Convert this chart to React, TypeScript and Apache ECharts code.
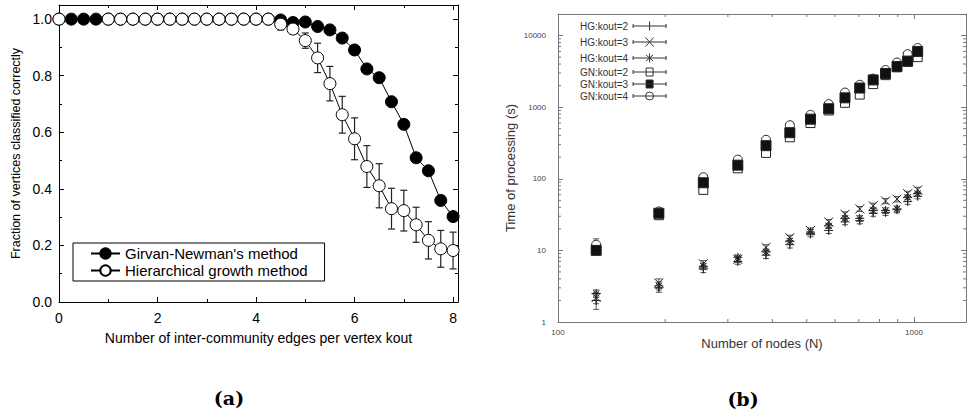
import React, { useEffect, useRef } from 'react';
import * as echarts from 'echarts';

// ---------- (a) data ----------
const kout = [0, 0.25, 0.5, 0.75, 1, 1.25, 1.5, 1.75, 2, 2.25, 2.5, 2.75, 3, 3.25, 3.5, 3.75, 4, 4.25,
  4.5, 4.75, 5, 5.25, 5.5, 5.75, 6, 6.25, 6.5, 6.75, 7, 7.25, 7.5, 7.75, 8];
const gnFrac = [1, 1, 1, 1, 1, 1, 1, 1, 1, 1, 1, 1, 1, 1, 1, 1, 1, 1,
  0.997, 0.988, 0.99, 0.974, 0.962, 0.933, 0.891, 0.824, 0.793, 0.708, 0.628, 0.51, 0.464, 0.359, 0.302];
const hgFrac = [1, null, null, null, 1, 1, 1, 1, 1, 1, 1, 1, 1, 1, 1, 1, 1, 1,
  0.982, 0.965, 0.924, 0.863, 0.772, 0.662, 0.577, 0.479, 0.411, 0.33, 0.323, 0.273, 0.218, 0.188, 0.182];
const hgErr = [0, 0, 0, 0, 0, 0, 0, 0, 0, 0, 0, 0, 0.012, 0.012, 0.012, 0.012, 0.012, 0.012,
  0.02, 0.016, 0.027, 0.052, 0.061, 0.065, 0.074, 0.074, 0.078, 0.072, 0.072, 0.062, 0.066, 0.065, 0.065];
const xTicksA = [0, 2, 4, 6, 8];

// ---------- (b) data ----------
const nodes = [128, 192, 256, 320, 384, 448, 512, 576, 640, 704, 768, 832, 896, 960, 1024];
const hg2 = [2.0, 3.0, 5.5, 7.0, 8.6, 12, 17, 19, 25, 26, 33, 34, 37, 48, 57];
const hg3 = [2.2, 3.5, 6.5, 7.5, 11, 15, 19, 25, 32, 38, 42, 49, 52, 62, 70];
const hg4 = [2.5, 3.2, 6.0, 8.0, 9.5, 13.5, 18, 22, 28, 28, 36, 36, 38, 55, 62];
const gn2 = [10.5, 31, 70, 140, 230, 380, 600, 900, 1150, 1500, 2100, 2800, 3600, 4300, 5000];
const gn3 = [10, 33, 88, 155, 290, 440, 680, 950, 1350, 1850, 2400, 2950, 3700, 4400, 6000];
const gn4 = [12, 35, 105, 185, 350, 560, 780, 1100, 1600, 2050, 2500, 3300, 4200, 5500, 6700];
const hg2Err = [0.5, 0.4, 0.6, 0.6, 0.9, 1.2, 1.5, 1.8, 2.2, 2.5, 3, 3.2, 3.5, 4, 4.5];
const hg3Err = [0.4, 0.5, 0.7, 0.7, 1.0, 1.3, 1.6, 2.0, 2.5, 3, 3.5, 4, 4.5, 5, 6];
const hg4Err = [0.3, 0.4, 0.6, 0.6, 0.9, 1.2, 1.5, 1.8, 2.2, 2.5, 3, 3.2, 3.5, 4, 5];
const gn2Err = [1.2, 2.5, 6, 10, 18, 28, 40, 60, 80, 100, 130, 160, 200, 250, 300];
const gn3Err = [1.0, 2.5, 7, 11, 20, 30, 45, 65, 85, 110, 140, 170, 210, 260, 320];
const gn4Err = [2.5, 3, 8, 12, 22, 32, 48, 70, 95, 120, 150, 180, 220, 280, 340];
const xMinorB = [200, 300, 400, 500, 600, 700, 800, 900];
const yMinorB = [2, 3, 4, 5, 6, 7, 8, 9, 20, 30, 40, 50, 60, 70, 80, 90,
  200, 300, 400, 500, 600, 700, 800, 900, 2000, 3000, 4000, 5000, 6000, 7000, 8000, 9000];

const FONT = 'Liberation Sans';

const plusPath = 'path://M5,0 L5,10 M0,5 L10,5';
const crossPath = 'path://M0,0 L10,10 M10,0 L0,10';
const starPath = 'path://M5,0 L5,10 M0,5 L10,5 M1.5,1.5 L8.5,8.5 M8.5,1.5 L1.5,8.5';

const iconBase = 'M0,9 L66,9 M0,5 L0,13 M66,5 L66,13';
const iconPlus = 'path://' + iconBase + ' M33,0 L33,18';
const iconCross = 'path://' + iconBase + ' M25,0 L41,18 M41,0 L25,18';
const iconStar = 'path://' + iconBase + ' M33,0 L33,18 M26,3 L40,15 M40,3 L26,15';
const iconSquare = 'path://' + iconBase + ' M26,1 L40,1 L40,17 L26,17 Z';
const iconCircle = 'path://' + iconBase + ' M41,9 A8,8 0 1,1 25,9 A8,8 0 1,1 41,9 Z';

function axisA(extra: any) {
  return {
    type: 'value',
    gridIndex: 0,
    nameMoveOverlap: false,
    axisLine: { show: true, onZero: false, lineStyle: { color: '#000', width: 1 } },
    axisTick: { show: true, inside: true, length: 5, lineStyle: { color: '#000', width: 1 } },
    minorTick: { show: true, splitNumber: 2, length: 3, lineStyle: { color: '#000', width: 1 } },
    splitLine: { show: false },
    minorSplitLine: { show: false },
    ...extra,
  };
}

function axisB(extra: any) {
  return {
    type: 'log',
    logBase: 10,
    gridIndex: 1,
    nameMoveOverlap: false,
    axisLine: { show: true, onZero: false, lineStyle: { color: '#777', width: 1 } },
    axisTick: { show: true, inside: true, length: 5, lineStyle: { color: '#777', width: 1 } },
    splitLine: { show: false },
    ...extra,
  };
}

const errRender = (color: string, cap: number, lw: number) => (params: any, api: any) => {
  const x = api.value(0), y = api.value(1), e = api.value(2);
  const t = api.coord([x, y + e]);
  const b = api.coord([x, y - e]);
  const style = { stroke: color, lineWidth: lw };
  return {
    type: 'group',
    children: [
      { type: 'line', shape: { x1: t[0], y1: t[1], x2: b[0], y2: b[1] }, style },
      { type: 'line', shape: { x1: t[0] - cap, y1: t[1], x2: t[0] + cap, y2: t[1] }, style },
      { type: 'line', shape: { x1: b[0] - cap, y1: b[1], x2: b[0] + cap, y2: b[1] }, style },
    ],
  };
};

export default function App() {
  const ref = useRef<HTMLDivElement>(null);
  useEffect(() => {
    document.body.style.margin = '0';
    const chart = echarts.init(ref.current!, null, { renderer: 'svg' });

    const hgErrData = kout
      .map((k, i) => [k, hgFrac[i], hgErr[i]])
      .filter((d) => d[1] !== null && (d[2] as number) > 0);

    const bSeries = [
      { name: 'HG:kout=2', vals: hg2, err: hg2Err, symbol: plusPath, fill: 'none', size: 9 },
      { name: 'HG:kout=3', vals: hg3, err: hg3Err, symbol: crossPath, fill: 'none', size: 9 },
      { name: 'HG:kout=4', vals: hg4, err: hg4Err, symbol: starPath, fill: 'none', size: 9 },
      { name: 'GN:kout=2', vals: gn2, err: gn2Err, symbol: 'rect', fill: '#fff', size: 9 },
      { name: 'GN:kout=4', vals: gn4, err: gn4Err, symbol: 'circle', fill: '#fff', size: 9 },
      { name: 'GN:kout=3', vals: gn3, err: gn3Err, symbol: 'rect', fill: '#111', size: 10 },
    ];
    const bErrData: any[] = [];
    bSeries.forEach((s) => s.vals.forEach((v, i) => bErrData.push([nodes[i], v, s.err[i]])));

    const option: any = {
      animation: false,
      backgroundColor: '#fff',
      textStyle: { fontFamily: FONT },
      grid: [
        { left: 59, top: 5, width: 399, height: 297, containLabel: false, outerBoundsMode: 'none' },
        { left: 558, top: 14, width: 408, height: 308, containLabel: false, outerBoundsMode: 'none' },
      ],
      xAxis: [
        axisA({
          position: 'bottom', min: 0, max: 8.1, interval: 2,
          axisLabel: { fontSize: 14, color: '#000', margin: 9, showMaxLabel: false, fontFamily: FONT,
            formatter: (v: number) => (xTicksA.indexOf(v) >= 0 ? String(v) : '') },
          name: 'Number of inter-community edges per vertex kout', nameLocation: 'middle', nameGap: 29,
          nameTextStyle: { fontSize: 14, color: '#000', fontFamily: FONT },
        }),
        axisA({ position: 'top', min: 0, max: 8.1, interval: 2, axisLabel: { show: false } }),
        axisB({
          position: 'bottom', min: 100, max: 1400,
          axisLabel: { fontSize: 8, color: '#444', margin: 6, showMaxLabel: false, fontFamily: FONT,
            formatter: (v: number) => String(Math.round(v)) },
          name: 'Number of nodes (N)', nameLocation: 'middle', nameGap: 15,
          nameTextStyle: { fontSize: 13, color: '#333', fontFamily: FONT },
        }),
        axisB({ position: 'top', min: 100, max: 1400, axisLabel: { show: false } }),
      ],
      yAxis: [
        axisA({
          position: 'left', min: 0, max: 1.05, interval: 0.2,
          axisLabel: { fontSize: 14, color: '#000', margin: 7, showMaxLabel: false, fontFamily: FONT,
            formatter: (v: number) => v.toFixed(1) },
          name: 'Fraction of vertices classified correctly', nameLocation: 'middle', nameGap: 37,
          nameTextStyle: { fontSize: 12.5, color: '#000', fontFamily: FONT },
        }),
        axisA({ position: 'right', min: 0, max: 1.05, interval: 0.2, axisLabel: { show: false } }),
        axisB({
          position: 'left', min: 1, max: 20000,
          axisLabel: { fontSize: 8, color: '#444', margin: 12, showMaxLabel: false, fontFamily: FONT,
            formatter: (v: number) => String(Math.round(v)) },
          name: 'Time of processing (s)', nameLocation: 'middle', nameGap: 41,
          nameTextStyle: { fontSize: 13, color: '#333', fontFamily: FONT },
        }),
        axisB({ position: 'right', min: 1, max: 20000, axisLabel: { show: false } }),
      ],
      legend: [
        {
          orient: 'vertical', left: 73, top: 243, padding: [3, 17, 3, 17], itemGap: 2,
          itemWidth: 29, itemHeight: 13, borderColor: '#000', borderWidth: 1, borderRadius: 0,
          selectedMode: false,
          textStyle: { fontSize: 15, color: '#000', fontFamily: FONT, lineHeight: 15 },
          data: ["Girvan-Newman's method", 'Hierarchical growth method'],
        },
        {
          orient: 'vertical', left: 580, top: 19, padding: 0, itemGap: 2, itemWidth: 33, itemHeight: 9,
          align: 'right', selectedMode: false,
          textStyle: { fontSize: 10, color: '#333', fontFamily: FONT, lineHeight: 9 },
          data: [
            { name: 'HG:kout=2', icon: iconPlus, itemStyle: { color: 'none', borderColor: '#333', borderWidth: 1 } },
            { name: 'HG:kout=3', icon: iconCross, itemStyle: { color: 'none', borderColor: '#333', borderWidth: 1 } },
            { name: 'HG:kout=4', icon: iconStar, itemStyle: { color: 'none', borderColor: '#333', borderWidth: 1 } },
            { name: 'GN:kout=2', icon: iconSquare, itemStyle: { color: '#fff', borderColor: '#333', borderWidth: 1 } },
            { name: 'GN:kout=3', icon: iconSquare, itemStyle: { color: '#111', borderColor: '#333', borderWidth: 1 } },
            { name: 'GN:kout=4', icon: iconCircle, itemStyle: { color: '#fff', borderColor: '#333', borderWidth: 1 } },
          ],
        },
      ],
      graphic: [
        { type: 'text', x: 229, y: 398, style: { text: '(a)', font: 'bold 19px DejaVu Serif', fill: '#000', align: 'center', verticalAlign: 'middle' } },
        { type: 'text', x: 743, y: 399, style: { text: '(b)', font: 'bold 19px DejaVu Serif', fill: '#000', align: 'center', verticalAlign: 'middle' } },
      ],
      series: [
        {
          type: 'custom', name: 'hgErr', xAxisIndex: 0, yAxisIndex: 0, silent: true, z: 1,
          encode: { x: 0, y: 1 }, data: hgErrData, renderItem: errRender('#222', 3.5, 1.2), clip: false,
        },
        {
          type: 'line', name: "Girvan-Newman's method", xAxisIndex: 0, yAxisIndex: 0, z: 2,
          data: kout.map((k, i) => [k, gnFrac[i]]),
          symbol: 'circle', symbolSize: 12, showAllSymbol: true,
          lineStyle: { color: '#000', width: 1 },
          itemStyle: { color: '#000', borderColor: '#000', borderWidth: 1 },
        },
        {
          type: 'line', name: 'Hierarchical growth method', xAxisIndex: 0, yAxisIndex: 0, z: 3,
          data: kout.map((k, i) => [k, hgFrac[i]]),
          symbol: 'circle', symbolSize: 12, showAllSymbol: true, connectNulls: true,
          lineStyle: { color: '#000', width: 1 },
          itemStyle: { color: '#fff', borderColor: '#000', borderWidth: 1 },
        },
        {
          type: 'custom', name: 'minorX', xAxisIndex: 2, yAxisIndex: 2, silent: true, clip: false,
          encode: { x: 0, y: 1 }, data: xMinorB.map((v) => [v, 1]),
          renderItem: (params: any, api: any) => {
            const cs = params.coordSys;
            const p = api.coord([api.value(0), api.value(1)]);
            const st = { stroke: '#777', lineWidth: 1 };
            return {
              type: 'group', children: [
                { type: 'line', shape: { x1: p[0], y1: cs.y + cs.height, x2: p[0], y2: cs.y + cs.height - 3 }, style: st },
                { type: 'line', shape: { x1: p[0], y1: cs.y, x2: p[0], y2: cs.y + 3 }, style: st },
              ],
            };
          },
        },
        {
          type: 'custom', name: 'minorY', xAxisIndex: 2, yAxisIndex: 2, silent: true, clip: false,
          encode: { x: 0, y: 1 }, data: yMinorB.map((v) => [100, v]),
          renderItem: (params: any, api: any) => {
            const cs = params.coordSys;
            const p = api.coord([api.value(0), api.value(1)]);
            const st = { stroke: '#777', lineWidth: 1 };
            return {
              type: 'group', children: [
                { type: 'line', shape: { x1: cs.x, y1: p[1], x2: cs.x + 3, y2: p[1] }, style: st },
                { type: 'line', shape: { x1: cs.x + cs.width, y1: p[1], x2: cs.x + cs.width - 3, y2: p[1] }, style: st },
              ],
            };
          },
        },
        {
          type: 'custom', name: 'bErr', xAxisIndex: 2, yAxisIndex: 2, silent: true, z: 1,
          encode: { x: 0, y: 1 }, data: bErrData, renderItem: errRender('#555', 3, 1), clip: false,
        },
        ...bSeries.map((s) => ({
          type: 'scatter', name: s.name, xAxisIndex: 2, yAxisIndex: 2, z: 2,
          data: nodes.map((n, i) => [n, s.vals[i]]),
          symbol: s.symbol, symbolSize: s.size,
          itemStyle: { color: s.fill, borderColor: '#222', borderWidth: 1, opacity: 1 },
        })),
      ],
    };
    chart.setOption(option);
    return () => chart.dispose();
  }, []);
  return <div ref={ref} style={{ width: 969, height: 419, background: '#fff' }} />;
}
